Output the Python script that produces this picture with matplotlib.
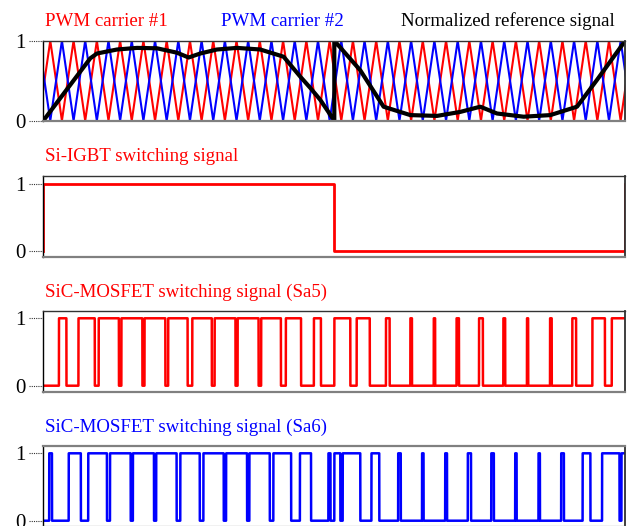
import numpy as np
import matplotlib
matplotlib.use("Agg")
import matplotlib.pyplot as plt
from matplotlib.transforms import blended_transform_factory

plt.rcParams['font.family'] = ['Liberation Serif', 'DejaVu Serif']

# ---- data -------------------------------------------------------------
# time axis: one fundamental period, in ms
window_ms = 20.0
carrier_periods = 25          # triangular carriers per window
carrier1_peak_time = 0.24     # ms, first peak of carrier #1 (carrier #2 is its complement)

# normalized reference signal (time in ms, value 0..1)
ref_t = [0.0, 1.615, 1.845, 2.533, 3.220, 3.907, 4.594, 4.993, 5.395, 5.969,
         6.656, 7.457, 8.258, 8.832, 9.175, 9.519, 10.0,
         10.0, 10.893, 11.694, 12.612, 13.529, 14.330, 15.017, 15.591,
         16.505, 17.423, 18.340, 19.027, 20.0]
ref_v = [0.0, 0.78, 0.84, 0.89, 0.91, 0.905, 0.85, 0.79, 0.84, 0.89,
         0.91, 0.89, 0.80, 0.55, 0.41, 0.26, 0.0,
         1.0, 0.63, 0.175, 0.07, 0.06, 0.11, 0.175, 0.09,
         0.05, 0.07, 0.175, 0.51, 1.0]

# Si-IGBT gate signal: on during the first half period, off during the second
igbt_t = [0.0, 0.0, 10.0, 10.0, 20.0, 20.0]
igbt_v = [0, 1, 1, 0, 0, 1]

titles_top = ["PWM carrier #1", "PWM carrier #2", "Normalized reference signal"]
panel_titles = ["Si-IGBT switching signal",
                "SiC-MOSFET switching signal (Sa5)",
                "SiC-MOSFET switching signal (Sa6)"]
ytick_vals = [0, 1]
ytick_labels = ["0", "1"]

RED = "#ff0000"
BLUE = "#0000ff"

# ---- signals ----------------------------------------------------------
Tc = window_ms / carrier_periods
peaks = carrier1_peak_time + Tc * np.arange(-1, carrier_periods + 2)
vert_t = np.sort(np.concatenate([peaks, peaks + Tc / 2]))
vert_c1 = np.where(np.isin(vert_t, peaks), 1.0, 0.0)
vert_c2 = 1.0 - vert_c1

t = np.linspace(0.0, window_ms, 40001)
c1 = np.interp(t, vert_t, vert_c1)
c2 = np.interp(t, vert_t, vert_c2)
# reference, respecting the jump at half period
half = t < 10.0
ref_first = np.interp(t, ref_t[:17], ref_v[:17])
ref_second = np.interp(t, ref_t[17:], ref_v[17:])
ref = np.where(half, ref_first, ref_second)
sa5 = (ref > c1).astype(float)
sa6 = (ref > c2).astype(float)

# ---- figure -----------------------------------------------------------
W, H = 629, 526
fig = plt.figure(figsize=(W / 100, H / 100), dpi=100)

left_px, right_px = 43.3, 625.3
# (top px, bottom px, ylim)
panels = [
    (40.7, 120.7, (0.0, 1.0)),
    (176.0, 257.0, (-0.094, 1.12)),
    (311.0, 391.7, (-0.089, 1.108)),
    (446.3, 526.7, (-0.089, 1.104)),
]

axes = []
for top, bot, yl in panels:
    ax = fig.add_axes([left_px / W, 1 - bot / H, (right_px - left_px) / W, (bot - top) / H])
    ax.set_xlim(0, window_ms)
    ax.set_ylim(*yl)
    ax.set_xticks([])
    ax.set_yticks(ytick_vals)
    ax.set_yticklabels(ytick_labels, fontsize=15)
    ax.tick_params(axis='y', length=0, pad=12.5)
    ax.spines['left'].set_color('black')
    ax.spines['left'].set_linewidth(1.0)
    ax.spines['top'].set_color('#333333')
    ax.spines['top'].set_linewidth(1.0)
    ax.spines['bottom'].set_color('#808080')
    ax.spines['bottom'].set_linewidth(1.6)
    ax.spines['right'].set_color('#303030')
    ax.spines['right'].set_linewidth(1.3)
    tr = blended_transform_factory(ax.transAxes, ax.transData)
    tick_w = 14.0 / (right_px - left_px)
    for v in ytick_vals:
        ax.plot([-tick_w, 0], [v, v], transform=tr, color='#333333', lw=0.8,
                ls=(0, (1, 1)), clip_on=False)
    axes.append(ax)

axes[3].spines['top'].set_color('#808080')
axes[3].spines['top'].set_linewidth(1.6)

# carriers and reference
ax = axes[0]
ax.plot(vert_t, vert_c1, color=RED, lw=1.5)
ax.plot(vert_t, vert_c2, color=BLUE, lw=1.5)
ax.plot(ref_t, ref_v, color='black', lw=3.0, solid_joinstyle='round')

# switching signals
axes[1].plot(igbt_t, igbt_v, color=RED, lw=2.0)
axes[2].plot(t, sa5, color=RED, lw=1.8)
axes[3].plot(t, sa6, color=BLUE, lw=1.8)

# titles
fs = 13.6
fig.text(45 / W, 1 - 26 / H, titles_top[0], color=RED, fontsize=fs, va='baseline', ha='left')
fig.text(221 / W, 1 - 26 / H, titles_top[1], color=BLUE, fontsize=fs, va='baseline', ha='left')
fig.text(615 / W, 1 - 26 / H, titles_top[2], color='black', fontsize=fs, va='baseline', ha='right')
fig.text(45 / W, 1 - 161.5 / H, panel_titles[0], color=RED, fontsize=fs, va='baseline', ha='left')
fig.text(45 / W, 1 - 296.5 / H, panel_titles[1], color=RED, fontsize=fs, va='baseline', ha='left')
fig.text(45 / W, 1 - 432 / H, panel_titles[2], color=BLUE, fontsize=fs, va='baseline', ha='left')

fig.savefig("out.png", dpi=100)
